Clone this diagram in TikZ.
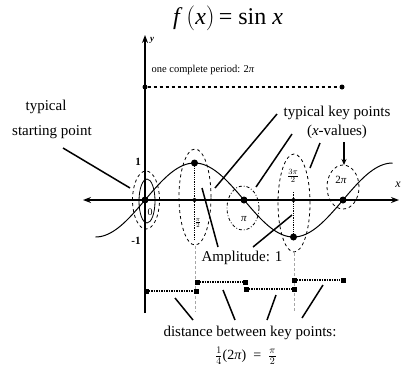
\documentclass[tikz,border=0pt]{standalone}
\usepackage{fontspec}
\setmainfont{Liberation Serif}
\usetikzlibrary{arrows.meta,shapes.geometric}
\begin{document}
\begin{tikzpicture}[x=1pt,y=-1pt,
  dot/.style={circle,fill=black,inner sep=0pt,minimum size=7pt},
  sdot/.style={circle,fill=black,inner sep=0pt,minimum size=4pt},
  sqdot/.style={rectangle,fill=black,inner sep=0pt,minimum size=5pt},
  lbl/.style={font=\fontsize{15}{17}\selectfont,inner sep=1pt},
  small/.style={font=\fontsize{10}{12}\selectfont,inner sep=1pt},
  ptr/.style={line width=1.5pt},
  axis/.style={line width=1.4pt},
  ell/.style={ellipse,draw,inner sep=0pt,line width=0.8pt},
  guide/.style={black!35,densely dashed,line width=0.5pt},
  seg/.style={densely dotted,line width=1.5pt},
  vdot/.style={densely dotted,line width=1.3pt}]
\useasboundingbox (0,0) rectangle (403,376);

% title
\node[font=\fontsize{24}{26}\selectfont] (title) at (228,18) {\textit{f}\,$\big($\textit{x}$\big)$\,= sin \textit{x}};

% faint guides
\coordinate (g1a) at (195,246); \coordinate (g1b) at (195,312);
\coordinate (g2a) at (294,253); \coordinate (g2b) at (294,312);
\draw[guide] (g1a) -- (g1b);
\draw[guide] (g2a) -- (g2b);

% axes
\coordinate (xl) at (83,200); \coordinate (xr) at (399,200);
\coordinate (yb) at (145,313); \coordinate (yt) at (145,35);
\draw[axis,{Stealth[length=8pt,width=6pt]}-{Stealth[length=8pt,width=6pt]}] (xl) -- (xr);
\draw[axis,-{Stealth[length=8pt,width=6pt]}] (yb) -- (yt);
\node[small,font=\itshape\bfseries\fontsize{9}{10}\selectfont] (ylab) at (152,40) {y};
\node[small,font=\itshape\fontsize{12}{12}\selectfont] (xlab) at (398,185) {x};
\node[small,font=\bfseries\fontsize{11}{12}\selectfont] (one) at (138,162) {1};
\node[small,font=\bfseries\fontsize{11}{12}\selectfont] (mone) at (136,241) {-1};

% curve
\draw[line width=1pt] plot[domain=-90:450,samples=120,smooth] ({145+\x/360*198},{200-37*sin(\x)});

% period line
\node[dot,minimum size=5pt] (pa) at (145,87) {};
\node[dot,minimum size=5pt] (pb) at (342,87) {};
\draw[dashed,line width=1.2pt] (pa) -- (pb);
\node[small,font=\fontsize{10.5}{12}\selectfont] (plab) at (203,70) {one complete period: 2\textit{π}};

% ellipses
\node[ell,dashed,minimum width=27pt,minimum height=58pt] (e0o) at (146,200) {};
\node[ell,minimum width=16pt,minimum height=44pt] (e0i) at (147,201) {};
\node[ell,dashed,minimum width=32pt,minimum height=96pt] (e1) at (195,197) {};
\node[ell,dash dot,minimum width=32pt,minimum height=44pt] (e2) at (243,208) {};
\node[ell,dashed,minimum width=32pt,minimum height=98pt] (e3) at (294,203) {};
\node[ell,dashed,minimum width=32pt,minimum height=44pt] (e4) at (343,187) {};

% vertical dotted lines
\coordinate (v1a) at (194.5,163); \coordinate (v1b) at (194.5,240);
\coordinate (v3a) at (293.5,192); \coordinate (v3b) at (293.5,237);
\draw[vdot] (v1a) -- (v1b);
\draw[vdot] (v3a) -- (v3b);

% key points
\node[dot] (k0) at (145,200) {};
\node[dot] (k1) at (194.5,163) {};
\node[sdot] (k1x) at (194.5,200) {};
\node[dot] (k2) at (244,200) {};
\node[dot] (k3) at (293.5,237) {};
\node[sdot] (k3x) at (293.5,200) {};
\node[dot] (k4) at (343,200) {};

% labels in ellipses
\node[small,font=\fontsize{10}{10}\selectfont] (l0) at (150,212) {0};
\node[small,font=\fontsize{8}{9}\selectfont] (l1) at (198,223) {$\frac{\pi}{2}$};
\node[small,font=\fontsize{11}{12}\selectfont] (l2) at (244,219) {\textit{π}};
\node[small,font=\fontsize{11}{12}\selectfont] (l3) at (293,176) {$\frac{3\pi}{2}$};
\node[small,font=\fontsize{11}{12}\selectfont] (l4) at (341,180) {2\textit{π}};

% typical starting point
\node[lbl] (ts1) at (46,107) {typical};
\node[lbl] (ts2) at (52,132) {starting point};
\coordinate (sp1) at (63,148); \coordinate (sp2) at (130,188);
\draw[ptr] (sp1) -- (sp2);

% typical key points
\node[lbl] (kp1) at (337,113) {typical key points};
\node[lbl] (kp2) at (337,132) {(\textit{x}-values)};
\coordinate (t1a) at (277,114); \coordinate (t1b) at (215,188);
\coordinate (t2a) at (292,134); \coordinate (t2b) at (256,187);
\coordinate (t3a) at (320,143); \coordinate (t3b) at (310,168);
\coordinate (t4a) at (344,142); \coordinate (t4b) at (344,165);
\draw[ptr] (t1a) -- (t1b);
\draw[ptr] (t2a) -- (t2b);
\draw[ptr] (t3a) -- (t3b);
\draw[ptr,-{Stealth[length=6pt,width=5pt]}] (t4a) -- (t4b);

% amplitude
\node[lbl] (amp) at (242,258) {Amplitude: 1};
\coordinate (a1a) at (218,247); \coordinate (a1b) at (202,188);
\coordinate (a2a) at (253,247); \coordinate (a2b) at (292,215);
\draw[ptr] (a1a) -- (a1b);
\draw[ptr] (a2a) -- (a2b);

% distance segments
\node[sqdot] (s1a) at (146,291) {};
\node[sqdot] (s1b) at (196,291) {};
\node[sqdot] (s2a) at (197,282) {};
\node[sqdot] (s2b) at (245,282) {};
\node[sqdot] (s3a) at (246,289) {};
\node[sqdot] (s3b) at (294,289) {};
\node[sqdot] (s4a) at (294,280) {};
\node[sqdot] (s4b) at (343,280) {};
\draw[seg] (s1a) -- (s1b);
\draw[seg] (s2a) -- (s2b);
\draw[seg] (s3a) -- (s3b);
\draw[seg] (s4a) -- (s4b);

% distance pointers
\coordinate (d1a) at (175,298); \coordinate (d1b) at (193,320);
\coordinate (d2a) at (223,290); \coordinate (d2b) at (235,320);
\coordinate (d3a) at (276,295); \coordinate (d3b) at (267,320);
\coordinate (d4a) at (323,285); \coordinate (d4b) at (302,318);
\draw[ptr] (d1a) -- (d1b);
\draw[ptr] (d2a) -- (d2b);
\draw[ptr] (d3a) -- (d3b);
\draw[ptr] (d4a) -- (d4b);

\node[lbl] (dist) at (250,333) {distance between key points:};
\node[font=\fontsize{14}{16}\selectfont,inner sep=1pt] (form) at (246,356) {$\frac{1}{4}$(2\textit{π})\ \ =\ \ $\frac{\pi}{2}$};
\end{tikzpicture}
\end{document}
